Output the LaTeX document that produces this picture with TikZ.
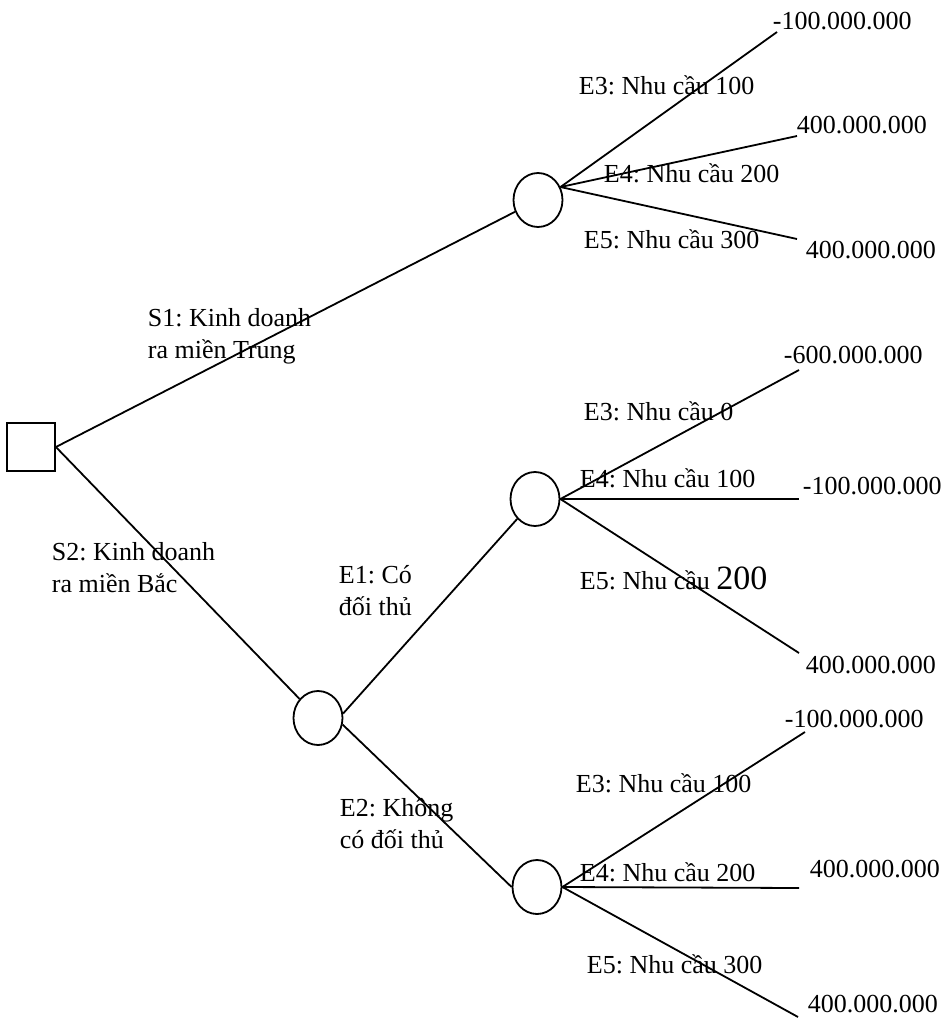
\documentclass[tikz,border=0pt]{standalone}
\usepackage{fontspec}
\setmainfont{Liberation Serif}
\usetikzlibrary{shapes.geometric}
\frenchspacing

\begin{document}
\begin{tikzpicture}[x=0.5pt, y=-0.5pt, line width=0.9pt,
  decision/.style={draw, rectangle, minimum size=24pt, inner sep=0pt},
  chance/.style={draw, ellipse, minimum width=24.5pt, minimum height=27pt, inner sep=0pt},
  lbl/.style={anchor=base west, inner sep=0pt, font=\fontsize{13}{16}\selectfont, align=left}]
\useasboundingbox (0,0) rectangle (952,1018);

% nut quyet dinh va cac nut co hoi
\node (dec) [decision] at (31,447) {};
\node (c1) [chance] at (538,200) {};
\node (c2) [chance] at (318,718) {};
\node (c4) [chance] at (535,499) {};
\node (c3) [chance] at (537,887) {};

% diem cuoi cac nhanh
\coordinate (t1) at (777,32);
\coordinate (m1) at (797,136);
\coordinate (b1) at (797,239);
\coordinate (t4) at (799,370);
\coordinate (m4) at (799,499);
\coordinate (b4) at (799,653);
\coordinate (t3) at (805,732);
\coordinate (m3) at (799,888);
\coordinate (b3) at (798,1017);

\draw (dec.east) -- (c1);
\draw (dec.east) -- (c2);
\draw (c2.10) -- (c4);
\draw (c2.-15) -- (c3.west);
\draw (c1.30) -- (t1);
\draw (c1.30) -- (m1);
\draw (c1.30) -- (b1);
\draw (c4.east) -- (t4);
\draw (c4.east) -- (m4);
\draw (c4.east) -- (b4);
\draw (c3.east) -- (t3);
\draw (c3.east) -- (m3);
\draw (c3.east) -- (b3);

% nhan (hai dong: toa do la dong cuoi)
\node (s1) [lbl] at (147,358) {S1: Kinh doanh\\ra miền Trung};
\node (s2) [lbl] at (51,592) {S2: Kinh doanh\\ra miền Bắc};
\node (e1) [lbl] at (338,615) {E1: Có\\đối thủ};
\node (e2) [lbl] at (339,848) {E2: Không\\có đối thủ};

\node (v1t) [lbl] at (772,29) {-100.000.000};
\node (e3a) [lbl] at (578,94) {E3: Nhu cầu 100};
\node (v1m) [lbl] at (796,133) {400.000.000};
\node (e4a) [lbl] at (603,182) {E4: Nhu cầu 200};
\node (e5a) [lbl] at (583,248) {E5: Nhu cầu 300};
\node (v1b) [lbl] at (805,258) {400.000.000};

\node (v4t) [lbl] at (783,363) {-600.000.000};
\node (e3b) [lbl] at (583,420) {E3: Nhu cầu 0};
\node (e4b) [lbl] at (579,487) {E4: Nhu cầu 100};
\node (v4m) [lbl] at (802,494) {-100.000.000};
\node (e5b) [lbl] at (579,589) {E5: Nhu cầu {\fontsize{17}{20}\selectfont 200}};
\node (v4b) [lbl] at (805,673) {400.000.000};

\node (v3t) [lbl] at (784,727) {-100.000.000};
\node (e3c) [lbl] at (575,792) {E3: Nhu cầu 100};
\node (v3m) [lbl] at (809,877) {400.000.000};
\node (e4c) [lbl] at (579,881) {E4: Nhu cầu 200};
\node (e5c) [lbl] at (586,973) {E5: Nhu cầu 300};
\node (v3b) [lbl] at (807,1012) {400.000.000};
\end{tikzpicture}
\end{document}
